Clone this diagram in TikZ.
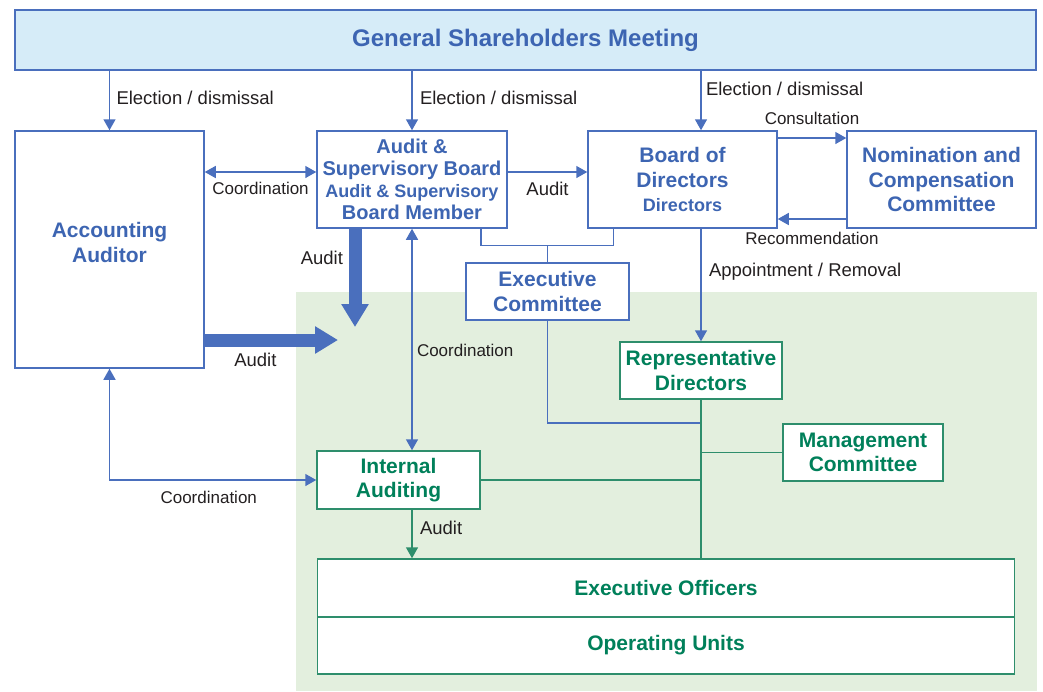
\documentclass[tikz,border=0pt]{standalone}
\usepackage{fontspec}
\setmainfont{Liberation Sans}
\usetikzlibrary{arrows.meta,positioning}

\definecolor{orgblue}{HTML}{4A6FBD}
\definecolor{orgbluetext}{HTML}{3D65B2}
\definecolor{orggreen}{HTML}{2E8E6C}
\definecolor{orggreentext}{HTML}{00805A}
\definecolor{greenarea}{HTML}{E3EFDE}
\definecolor{meetingfill}{HTML}{D6ECF8}
\definecolor{labelgray}{HTML}{231F20}

\newcommand{\meetingfont}{\fontsize{24}{28}\selectfont\bfseries}
\newcommand{\titlefont}{\fontsize{21}{24.5}\selectfont\bfseries}
\newcommand{\asbfont}{\fontsize{20}{22}\selectfont\bfseries}
\newcommand{\subfont}{\fontsize{18}{20}\selectfont\bfseries}

\tikzset{
    bluebox/.style={draw=orgblue, line width=1.5pt, fill=white,
        text=orgbluetext, font=\titlefont, align=center, inner sep=0pt},
    greenbox/.style={draw=orggreen, line width=1.5pt, fill=white,
        text=orggreentext, font=\titlefont, align=center, inner sep=0pt},
    blueline/.style={draw=orgblue, line width=1.5pt},
    greenline/.style={draw=orggreen, line width=1.5pt},
    bluearrow/.style={blueline, -{Triangle[width=12pt,length=11pt]}},
    bluebiarrow/.style={blueline,
        {Triangle[width=12pt,length=11pt]}-{Triangle[width=12pt,length=11pt]}},
    greenarrow/.style={greenline, -{Triangle[width=12pt,length=11pt]}},
    fatarrow/.style={draw=orgblue, line width=13pt,
        -{Triangle[width=26pt,length=23pt]}},
    lbl/.style={text=labelgray, font=\fontsize{18.5}{20}\selectfont,
        inner sep=0pt, outer sep=0pt},
    lblsmall/.style={lbl, font=\fontsize{17}{20}\selectfont},
}

\begin{document}
\begin{tikzpicture}[x=1pt, y=-1pt]

    \useasboundingbox (0,0) rectangle (1043,691);

    % executive side
    \fill[greenarea] (296,292) rectangle (1037,691);

    \node[draw=orgblue,
        line width=1.5pt,
        fill=meetingfill,
        text=orgbluetext,
        font=\meetingfont,
        minimum width=1021pt,
        minimum height=60pt
    ] (meeting) at (525.5,40) {General Shareholders Meeting};

    \node[bluebox,
        text depth=14pt,
        minimum width=189pt,
        minimum height=237pt
    ] (accounting) at (109.5,249.5) {Accounting\\Auditor};
    \node[bluebox,
        font=\asbfont,
        minimum width=190pt,
        minimum height=97pt
    ] (auditboard) at (412,179.5)
        {Audit \&\\Supervisory Board\\\subfont Audit \& Supervisory\\Board Member};
    \node[bluebox,
        minimum width=189pt,
        minimum height=97pt
    ] (board) at (682.5,179.5) {Board of\\Directors\\\subfont Directors};
    \node[bluebox,
        minimum width=189pt,
        minimum height=97pt
    ] (nomination) at (941.5,179.5) {Nomination and\\Compensation\\Committee};
    \node[bluebox,
        minimum width=163pt,
        minimum height=57pt
    ] (execcom) at (547.5,291.5) {Executive\\Committee};

    \node[greenbox,
        minimum width=162pt,
        minimum height=57pt
    ] (repdir) at (701,370.5) {Representative\\Directors};
    \node[greenbox,
        minimum width=160pt,
        minimum height=57pt
    ] (mgmt) at (863,452.5) {Management\\Committee};
    \node[greenbox,
        minimum width=163pt,
        minimum height=58pt
    ] (internal) at (398.5,480) {Internal\\Auditing};
    \node[greenbox,
        minimum width=697pt,
        minimum height=58pt
    ] (officers) at (666,588) {Executive Officers};
    \node[greenbox,
        minimum width=697pt,
        minimum height=57pt
    ] (units) at (666,645.5) {Operating Units};

    \coordinate (execsplit) at (547.5,245.5);
    \coordinate (execjoin) at (701,423);
    \coordinate (auditdown) at (355,327);
    \coordinate (auditright) at (338,340);

    % from the meeting
    \draw[bluearrow] (meeting.south -| accounting.north) -- (accounting.north)
        node[lbl, pos=0.45, right=7pt]{Election / dismissal};
    \draw[bluearrow] (meeting.south -| auditboard.north) -- (auditboard.north)
        node[lbl, pos=0.45, right=8pt]{Election / dismissal};
    \draw[bluearrow] (meeting.south -| repdir.north) -- (repdir.north |- board.north)
        node[lbl, pos=0.3, right=5pt]{Election / dismissal};

    % upper row
    \draw[bluebiarrow] ([yshift=7.5pt]auditboard.west -| accounting.east)
        -- ([yshift=7.5pt]auditboard.west)
        node[lblsmall, midway, below=10.5pt]{Coordination};
    \draw[bluearrow] ([yshift=7.5pt]auditboard.east) -- ([yshift=7.5pt]board.west)
        node[lbl, midway, below=10.5pt]{Audit};
    \draw[bluearrow] ([yshift=41.5pt]board.east) -- ([yshift=41.5pt]nomination.west)
        node[lblsmall, midway, above=13.5pt]{Consultation};
    \draw[bluearrow] ([yshift=-39.5pt]nomination.west) -- ([yshift=-39.5pt]board.east)
        node[lblsmall, midway, below=13.5pt]{Recommendation};

    \draw[blueline] ([xshift=-27pt]auditboard.south east) |- (execsplit)
        -| ([xshift=26pt]board.south west);
    \draw[blueline] (execsplit) -- (execcom.north);

    % audits
    \draw[fatarrow] (auditboard.south -| auditdown) -- (auditdown)
        node[lbl, pos=0.3, left=12pt]{Audit};
    \draw[fatarrow] (accounting.east |- auditright) -- (auditright)
        node[lbl, pos=0.38, below=13pt]{Audit};

    \draw[bluebiarrow] (auditboard.south) -- (auditboard.south |- internal.north)
        node[lblsmall, pos=0.55, right=5pt]{Coordination};
    \draw[bluebiarrow] (accounting.south) |- (internal.west)
        node[lblsmall, pos=0.74, below=11pt]{Coordination};

    \draw[bluearrow] (board.south -| repdir.north) -- (repdir.north)
        node[lbl, pos=0.38, right=8pt]{Appointment / Removal};
    \draw[blueline] (execcom.south) |- (execjoin);

    % executive lines
    \draw[greenline] (repdir.south) -- (repdir.south |- officers.north);
    \draw[greenline] (mgmt.west) -- (mgmt.west -| repdir.south);
    \draw[greenline] (internal.east) -- (internal.east -| repdir.south);
    \draw[greenarrow] (internal.south -| auditboard.south)
        -- (officers.north -| auditboard.south)
        node[lbl, pos=0.38, right=8pt]{Audit};

\end{tikzpicture}
\end{document}
